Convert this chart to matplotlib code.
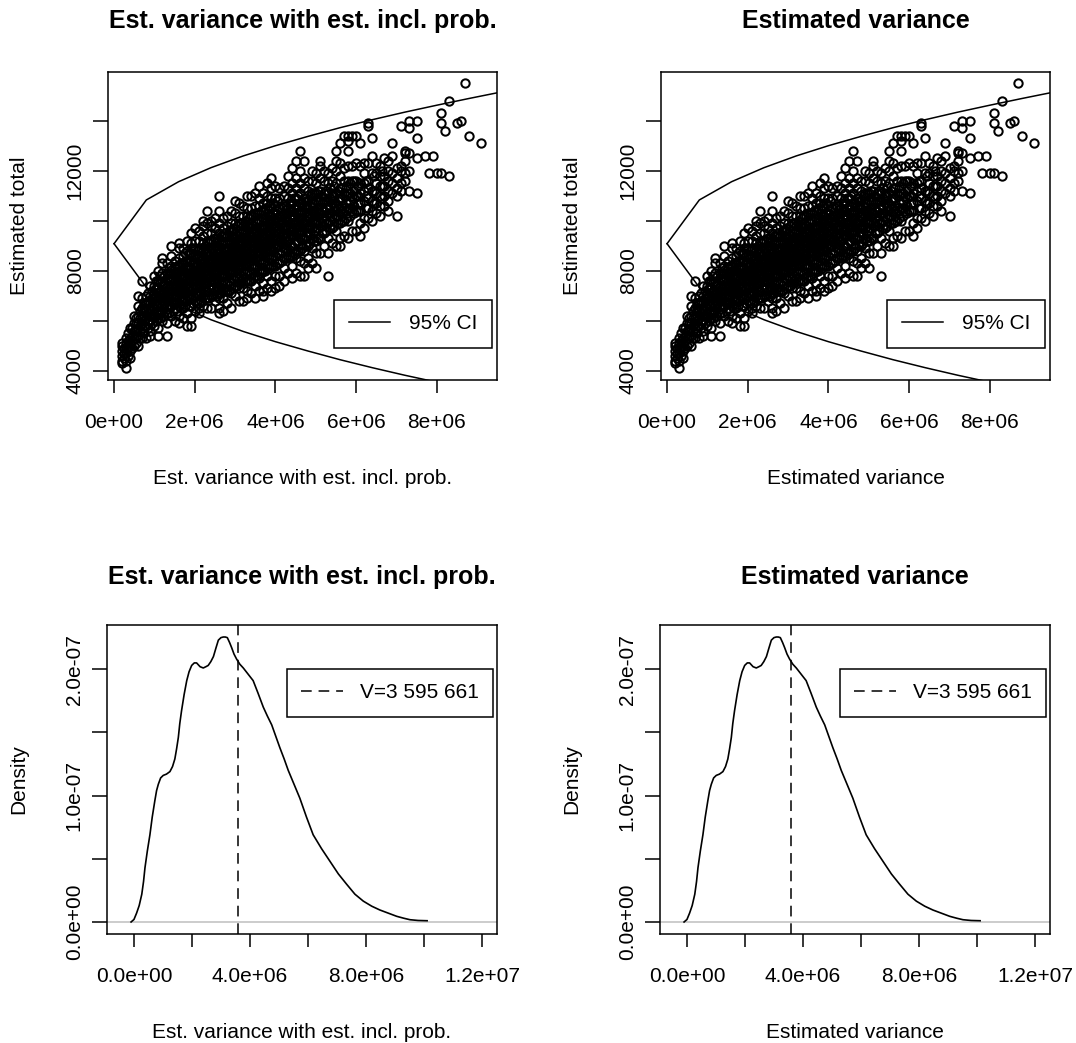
import matplotlib
matplotlib.use("Agg")
import matplotlib.pyplot as plt
from matplotlib.lines import Line2D

plt.rcParams['font.family'] = ['Liberation Sans', 'DejaVu Sans']

# estimated variance (x, units of 1e5) against estimated total (y, units of 100)
est_points = """
2: 43 44 46 48 50 51
2.5: 45 47 49
3: 41 44 47 49 51 53
3.5: 46 49 52 55
4: 45 48 51 53 57
4.5: 49 52 54 57
5: 50 53 56 59 62
5.5: 51 54 56 59 61
6: 50 54 57 59 62 66 70
6.5: 53 56 58 61 64
7: 53 57 59 62 65 69 76
7.5: 55 58 60 62 65 67
8: 53 58 61 64 67 70
8.5: 57 60 63 65 68 71
9: 54 56 60 62 65 67 70 74
9.5: 59 62 64 66 69 72
10: 58 62 65 67 69 71 74 78
10.5: 60 63 66 68 70 73 76
11: 54 57 61 64 66 69 71 73 76 80
11.5: 61 64 67 69 72 75 78
12: 60 64 66 69 71 74 76 79 83 85
12.5: 62 65 68 70 72 75 78
13: 54 59 63 66 68 70 72 74 77 79 83
13.5: 63 66 69 71 73 76 79 81
14: 62 66 68 70 72 74 76 79 82 86 90
14.5: 64 67 70 72 74 77 80
15: 60 65 67 70 72 74 76 78 81 84
15.5: 64 67 70 72 74 76 79 82
16: 59 62 66 69 71 73 75 78 80 82 85 89 91
16.5: 65 68 71 73 75 77 80 83
17: 61 65 69 71 73 75 77 80 83 86 89
17.5: 66 69 72 74 76 78 81 84 87
18: 58 63 68 70 73 75 77 79 82 84 88 92
18.5: 66 70 72 74 77 79 81 84 87
19: 58 61 66 69 72 74 76 79 81 84 87 91 95
19.5: 67 70 73 76 78 80 83 86 89
20: 64 68 71 74 76 78 80 83 86 89 92 97
20.5: 67 71 74 76 78 80 82 85 88
21: 63 65 67 70 72 75 77 79 81 84 86 89 92 96
21.5: 68 71 74 77 79 81 83 86 89
22: 66 70 73 75 77 79 81 83 85 88 91 94 98 100
22.5: 69 72 75 78 80 82 84 87 90
23: 65 69 72 75 77 79 82 84 87 89 92 95 99 104
23.5: 69 73 76 79 81 83 86 88 91
24: 65 70 73 76 78 80 81 83 84 87 89 92 95 98 100
24.5: 70 73 76 79 82 84 86 89 92
25: 68 72 75 76 79 80 82 84 85 88 90 93 97 101
25.5: 70 74 77 80 82 84 87 90 93
26: 63 65 69 73 76 78 81 82 85 87 89 92 95 99 104 110
26.5: 71 75 78 81 83 85 88 91 94
27: 64 69 73 76 78 81 82 85 86 89 91 94 97 101
27.5: 72 75 78 81 84 86 88 91 95
28: 67 72 75 78 80 82 83 85 86 89 91 94 98 102
28.5: 72 76 79 82 84 86 89 92 96
29: 65 71 75 77 80 82 83 85 87 88 91 94 96 99 104
29.5: 73 77 80 83 85 87 90 93 97
30: 70 74 78 80 82 83 85 87 89 90 93 95 99 103 108
30.5: 74 77 81 84 86 88 91 94 98
31: 68 73 77 79 82 84 85 87 90 91 94 96 99 102 107
31.5: 75 78 82 85 87 89 92 95 99
32: 68 73 77 80 82 84 85 87 89 91 93 96 98 102 106
32.5: 76 79 83 86 88 90 93 96 100
33: 69 72 76 80 82 85 86 88 90 92 93 96 98 102 105 110
33.5: 76 80 84 87 89 91 94 97 101
34: 71 76 79 82 85 86 88 90 92 94 96 99 102 105 110
34.5: 77 81 85 88 90 92 95 98 102
35: 69 74 78 82 85 87 89 91 93 96 97 100 103 106 111
35.5: 78 82 86 89 91 93 96 99 103
36: 72 77 80 84 87 88 91 93 95 97 100 103 106 109 114
36.5: 79 83 87 90 92 94 97 100 104
37: 70 72 75 80 83 86 89 90 92 94 97 98 101 104 107 111
37.5: 80 84 88 91 93 95 98 101 105
38: 73 78 82 86 89 90 92 94 96 98 100 103 107 110 115
38.5: 81 85 89 92 94 96 99 102 106
39: 72 76 82 85 88 91 92 95 98 100 102 105 109 113 117
39.5: 82 86 90 93 95 97 100 103 107
40: 73 78 82 86 89 91 93 96 98 100 103 106 109 114
40.5: 83 87 90 93 96 98 101 104 108
41: 74 78 83 87 90 92 95 97 100 102 105 109 113
41.5: 84 88 91 94 97 99 102 105
42: 76 81 85 89 93 95 98 101 103 106 110 114
42.5: 85 89 92 95 98 100 103 106
43: 79 85 88 92 94 97 100 103 105 109 113 118
43.5: 86 90 93 96 99 101 104 107
44: 77 82 86 90 94 96 99 102 104 107 111 115 121
44.5: 87 91 94 97 99 102 105 109
45: 79 85 88 92 95 97 100 103 106 109 113 117 124
45.5: 88 92 95 98 100 103 106 110
46: 78 84 88 93 96 98 101 104 107 111 115 120 128
46.5: 89 93 96 99 101 104 107
47: 78 83 88 93 97 99 103 106 109 113 117 124
47.5: 90 94 97 100 102 105 108
48: 81 85 90 95 98 102 105 108 112 116
48.5: 91 95 98 101 103 106 110
49: 83 89 93 97 100 104 107 111 116 120
49.5: 92 96 99 102 104 107 111
50: 81 87 92 97 100 104 108 111 115 119
50.5: 93 97 100 103 105 108 112
51: 87 93 99 103 108 112 117 122 124
51.5: 95 98 101 104 107 110
52: 90 95 100 104 108 111 116 120
52.5: 96 99 102 105 108 112
53: 78 87 93 99 103 108 111 115 119
53.5: 97 100 103 106 109 113
54: 91 97 102 107 111 116 121
54.5: 98 101 104 107 110 114
55: 90 96 102 106 111 115 120 124 128
55.5: 99 102 105 108 112
56: 90 93 99 104 109 113 118 123 131
56.5: 100 103 106 109 113
57: 94 100 105 111 116 121 134
57.5: 101 104 107 110 114
58: 93 100 105 111 116 122 128 132 134
58.5: 102 105 108 111 115
59: 96 104 110 116 122 134
59.5: 103 106 109 112 116
60: 96 104 110 116 123 134
60.5: 104 107 110 114
61: 94 99 104 107 111 115 122 131
62: 97 101 108 112 115 119 123
62.5: 105 110 116
63: 101 105 109 113 116 123 138 139
64: 100 104 108 112 119 126 133
64.5: 107 112 118
65: 103 107 111 115 119 123
66: 102 106 110 114 118 122
66.5: 109 114 120
67: 106 110 114 118 125
68: 104 108 112 116 120 124
69: 111 115 119 126 131
70: 102 110 113 117 121
71: 112 115 120 122 138
72: 116 119 124 127 128
73: 112 120 127 137 140
75: 111 125 133 140
77: 126
78: 119
79: 126
80: 119
81: 119 139 143
82: 136
83: 118 148
85: 139
86: 140
87: 155
88: 134
91: 131
"""
est_x = []
est_y = []
for line in est_points.strip().splitlines():
    k, vals = line.split(':')
    for v in vals.split():
        est_x.append(float(k) * 1e5)
        est_y.append(int(v) * 100)

# 95% CI curves
ci_x = [0, 0.8e6, 1.6e6, 2.4e6, 3.2e6, 4.0e6, 4.8e6, 5.6e6, 6.4e6, 7.2e6, 8.0e6, 8.8e6, 9.6e6]
ci_upper = [9080, 10830, 11560, 12120, 12590, 13000, 13370, 13720, 14040, 14340, 14620, 14890, 15150]
ci_lower = [9080, 7330, 6600, 6040, 5570, 5160, 4790, 4440, 4120, 3820, 3540, 3270, 3010]

# density of the variance estimates (x in 1e6, y in 1e-7)
dens_x = [-0.1, 0.0, 0.09, 0.18, 0.27, 0.33, 0.38, 0.46, 0.55, 0.63, 0.72, 0.78, 0.84, 0.92,
          1.01, 1.12, 1.24, 1.33, 1.41, 1.47, 1.53, 1.58, 1.64, 1.73, 1.82, 1.90, 1.99, 2.08,
          2.16, 2.28, 2.39, 2.48, 2.56, 2.65, 2.74, 2.83, 2.91, 3.0, 3.08, 3.15, 3.22, 3.30,
          3.37, 3.45, 3.54, 3.65, 3.77, 3.94, 4.11, 4.28, 4.46, 4.60, 4.75, 4.89, 5.03, 5.18,
          5.32, 5.52, 5.72, 5.95, 6.18, 6.47, 6.76, 7.05, 7.33, 7.62, 7.91, 8.2, 8.48, 8.77,
          9.06, 9.3, 9.52, 9.8, 10.11]
dens_y = [0.0, 0.02, 0.07, 0.13, 0.22, 0.32, 0.43, 0.56, 0.69, 0.83, 0.96, 1.04, 1.09, 1.14,
          1.16, 1.17, 1.19, 1.23, 1.29, 1.37, 1.46, 1.57, 1.67, 1.80, 1.91, 1.98, 2.03, 2.05,
          2.05, 2.02, 2.01, 2.02, 2.03, 2.06, 2.10, 2.17, 2.23, 2.25, 2.255, 2.255, 2.25, 2.21,
          2.17, 2.12, 2.08, 2.04, 2.01, 1.96, 1.91, 1.81, 1.70, 1.63, 1.56, 1.47, 1.38, 1.29,
          1.20, 1.09, 0.98, 0.83, 0.69, 0.58, 0.48, 0.38, 0.30, 0.22, 0.165, 0.125, 0.095, 0.07,
          0.045, 0.03, 0.018, 0.012, 0.01]
true_v = 3595661

W, H = 1076, 1043
FS = 15
LW = 1.1


def box(l, t, r, b):
    return [l / W, 1 - b / H, (r - l) / W, (b - t) / H]


def r_style(ax, title, xlabel, ylabel, th):
    for s in ax.spines.values():
        s.set_linewidth(LW)
    ax.tick_params(axis='x', direction='out', length=9.1, width=LW, labelsize=FS, pad=15)
    ax.tick_params(axis='y', direction='out', length=10.8, width=LW, labelsize=FS, pad=6)
    for t in ax.get_yticklabels():
        t.set_rotation(90)
        t.set_va('center')
    ax.set_xlabel(xlabel, fontsize=FS)
    ax.set_ylabel(ylabel, fontsize=FS)
    ax.xaxis.label.set_va('center')
    ax.yaxis.label.set_va('center')
    bb = ax.get_position()
    hpx = bb.height * H
    wpx = bb.width * W
    ax.xaxis.set_label_coords(0.5, -98 / hpx)
    ax.yaxis.set_label_coords(-88 / wpx, 0.5)
    ax.text(0.5, 1 + th / hpx, title, transform=ax.transAxes, ha='center', va='center',
            fontsize=18, fontweight='bold')


fig = plt.figure(figsize=(W / 100, H / 100), dpi=100)

titles = ["Est. variance with est. incl. prob.", "Estimated variance"]
top_boxes = [box(108, 72, 497, 380), box(661, 72, 1050, 380)]
bot_boxes = [box(107, 625, 497, 934), box(660, 625, 1050, 934)]

for i in range(2):
    ax = fig.add_axes(top_boxes[i])
    ax.plot(est_x, est_y, ls='none', marker='o', ms=6.0, mfc='none', mec='black', mew=1.45)
    ax.plot(ci_x, ci_upper, color='black', lw=LW)
    ax.plot(ci_x, ci_lower, color='black', lw=LW)
    ax.set_xlim(-0.15e6, 9.49e6)
    ax.set_ylim(3628, 15948)
    ax.set_xticks([0, 2e6, 4e6, 6e6, 8e6])
    ax.set_xticklabels(['0e+00', '2e+06', '4e+06', '6e+06', '8e+06'])
    ax.set_yticks([4000, 6000, 8000, 10000, 12000, 14000])
    ax.set_yticklabels(['4000', '', '8000', '', '12000', ''])
    r_style(ax, titles[i], titles[i], 'Estimated total', 51)
    h = [Line2D([0], [0], color='black', lw=LW, label='95% CI')]
    ax.legend(handles=h, loc='lower right', bbox_to_anchor=(0.987, 0.104), borderaxespad=0,
              fontsize=FS, fancybox=False, edgecolor='black', framealpha=1,
              handlelength=2.0, handletextpad=0.9, borderpad=0.7).get_frame().set_linewidth(LW)

for i in range(2):
    ax = fig.add_axes(bot_boxes[i])
    ax.axhline(0, color='#bebebe', lw=LW)
    ax.plot([v * 1e6 for v in dens_x], [v * 1e-7 for v in dens_y], color='black', lw=1.2)
    ax.axvline(true_v, color='black', lw=LW, dashes=(7, 4.5))
    ax.set_xlim(-0.93e6, 12.52e6)
    ax.set_ylim(-0.095e-7, 2.35e-7)
    ax.set_xticks([0, 2e6, 4e6, 6e6, 8e6, 10e6, 12e6])
    ax.set_xticklabels(['0.0e+00', '', '4.0e+06', '', '8.0e+06', '', '1.2e+07'])
    ax.set_yticks([0, 0.5e-7, 1e-7, 1.5e-7, 2e-7])
    ax.set_yticklabels(['0.0e+00', '', '1.0e-07', '', '2.0e-07'])
    r_style(ax, titles[i], titles[i], 'Density', 48)
    h = [Line2D([0], [0], color='black', lw=LW, dashes=(7, 4.5), label='V=3 595 661')]
    ax.legend(handles=h, loc='upper right', bbox_to_anchor=(0.99, 0.858), borderaxespad=0,
              fontsize=FS, fancybox=False, edgecolor='black', framealpha=1,
              handlelength=2.0, handletextpad=0.8, borderpad=0.7).get_frame().set_linewidth(LW)

fig.savefig('out.png', dpi=100)
